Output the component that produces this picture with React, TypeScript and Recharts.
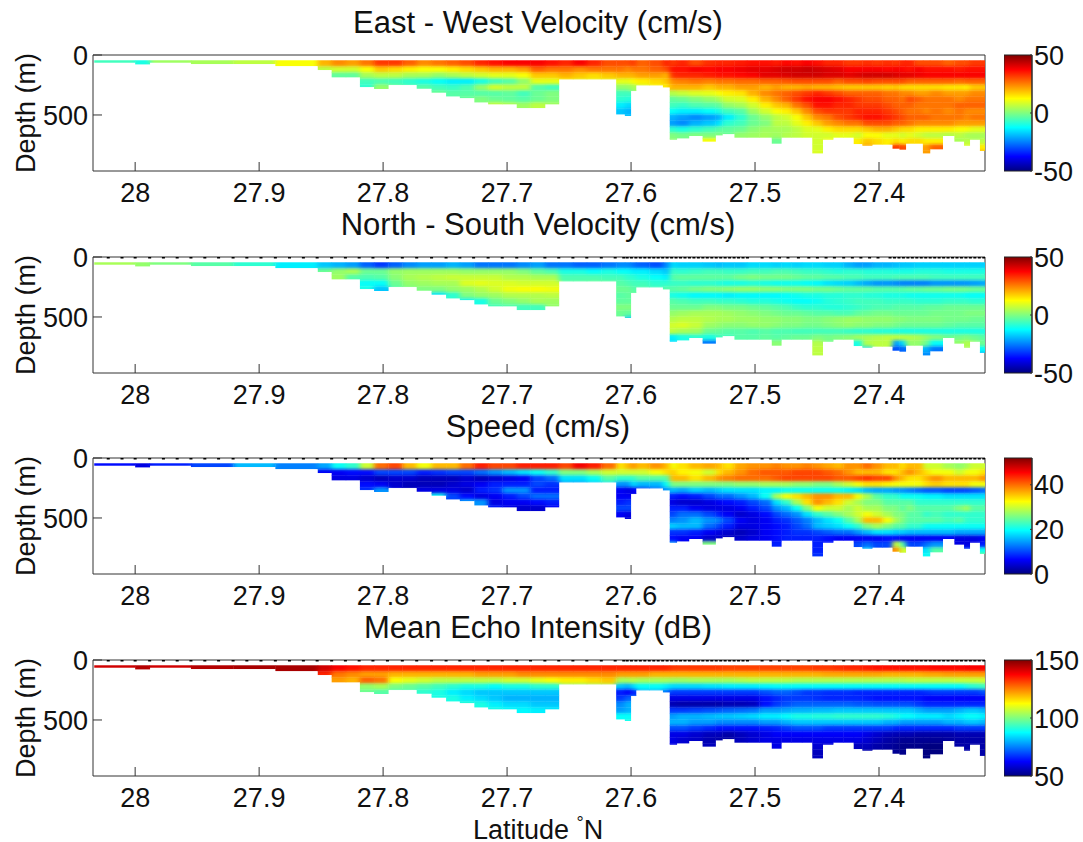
import { Bar, BarChart, Scatter, ScatterChart, XAxis, YAxis } from "recharts"

const latTicks = [28, 27.9, 27.8, 27.7, 27.6, 27.5, 27.4]
const depthTicks = [0, 500]

// column edges (deg N), one more than the columns
const latEdges = [
  28.033, 28.0, 27.9883, 27.955, 27.9208, 27.8869, 27.8527, 27.8415, 27.8301, 27.8187, 27.8073, 27.7959, 27.7845,
  27.7729, 27.7609, 27.7492, 27.7381, 27.7264, 27.7153, 27.7039, 27.6922, 27.6811, 27.6695, 27.6583, 27.6469, 27.6357,
  27.624, 27.612, 27.605, 27.6003, 27.5961, 27.5852, 27.5743, 27.5688, 27.5632, 27.5534, 27.5423, 27.5319, 27.5264,
  27.5166, 27.5066, 27.4965, 27.4865, 27.4789, 27.4706, 27.4622, 27.4538, 27.4455, 27.4371, 27.4287, 27.4204, 27.4134,
  27.4056, 27.3972, 27.3891, 27.3835, 27.3785, 27.3716, 27.3646, 27.359, 27.3487, 27.3392, 27.3314, 27.3269, 27.3186,
  27.3144,
]

// deepest good bin per column (m)
const bottomDepths = [
  61, 75, 61, 72, 72, 89, 122, 183, 183, 264, 280, 247, 247, 278, 311, 342, 356, 392, 408, 408, 439, 439, 408, 200, 200,
  200, 200, 492, 505, 297, 250, 250, 267, 703, 692, 672, 719, 667, 656, 686, 686, 686, 736, 686, 686, 686, 817, 703,
  686, 686, 739, 753, 744, 744, 778, 786, 736, 736, 817, 783, 672, 719, 753, 703, 797,
]

const stationLats = [
  28.0217, 28.0106, 28, 27.9883, 27.9772, 27.9661, 27.955, 27.9438, 27.9327, 27.921, 27.9099, 27.8985, 27.8869, 27.8755,
  27.8643, 27.8532, 27.8415, 27.8304, 27.8193, 27.8082, 27.7965, 27.7845, 27.7729, 27.7609, 27.7492, 27.7381, 27.727,
  27.7153, 27.7039, 27.6922, 27.6811, 27.6695, 27.6583, 27.6469, 27.6357, 27.624, 27.6128, 27.6059, 27.6031, 27.5997,
  27.5961, 27.5925, 27.5889, 27.5853, 27.5817, 27.5781, 27.5745, 27.5709, 27.5673, 27.5637, 27.5601, 27.5565, 27.5529,
  27.5493, 27.5457, 27.5421, 27.5385, 27.5349, 27.5313, 27.5277, 27.5241, 27.5205, 27.5169, 27.5133, 27.5097, 27.5061,
  27.4943, 27.4873, 27.4803, 27.4734, 27.465, 27.4566, 27.4497, 27.4427, 27.436, 27.4285, 27.4215, 27.4146, 27.4076,
  27.4008, 27.3911, 27.3875, 27.3839, 27.3803, 27.3767, 27.3731, 27.3695, 27.3659, 27.3623, 27.3587, 27.3551, 27.3515,
  27.3479, 27.3443, 27.3407, 27.3371, 27.3335, 27.3299, 27.3263, 27.3227, 27.3191, 27.3155,
]

// each column reads from the top bin down, 50 m bins starting at 44 m
const eastWest = [
  [-6], [-10], [3], [4], [6], [12], [20, 6], [24, 8, -3], [22, 8, -3], [26, 12, 4, -6, -8], [32, 18, 6, -5, 2],
  [32, 16, 6, -6, 0], [28, 14, 4, -8, -3], [24, 12, 4, -10, -4], [26, 12, 2, -12, -6, -2], [28, 14, 4, -14, -7, -4],
  [30, 16, 6, -14, -5, -4, -2], [34, 18, 8, -10, 2, -4, 0], [36, 20, 10, -6, 8, -4, -2, 8], [38, 20, 10, -4, 6, -3, -3, 6],
  [38, 22, 12, 2, 6, -6, -4, 3], [38, 28, 18, 10, -4, -2, -2, 6], [36, 26, 18, 10, -6, 0, 0, 4],
  [34, 26, 20, 12], [38, 24, 18, 10], [34, 26, 16, 10], [30, 26, 18, 10],
  [30, 26, 20, 10, 2, -6, -8, -14, -18], [30, 24, 20, 10, 2, -6, -9, -16, -20, -18], [32, 26, 20, 12, 4, 2],
  [28, 26, 22, 14, 8], [30, 28, 22, 16, 12], [34, 30, 20, 18, 14],
  [32, 36, 33, 24, 20, 5, -3, -6, -12, -20, -22, -8, 0, 2],
  [34, 36, 34, 25, 20, 7, -2, -7, -14, -22, -24, -10, -1],
  [30, 38, 34, 26, 20, 9, 0, -5, -14, -24, -20, -8, 0],
  [33, 37, 35, 25, 18, 10, 2, -4, -12, -22, -18, -6, 0, 12],
  [34, 38, 36, 26, 20, 12, 4, -3, -10, -20, -15, -4, 0],
  [34, 38, 36, 26, 20, 14, 8, 2, -6, -14, -8, -3, -2],
  [35, 39, 37, 27, 22, 15, 9, 4, -4, -8, -6, -2, 2],
  [36, 40, 38, 27, 22, 20, 14, 8, 3, -2, -2, 1, 3],
  [36, 40, 40, 28, 20, 24, 20, 14, 8, 2, 0, 3, 4],
  [35, 41, 40, 28, 22, 26, 24, 18, 12, 6, 6, 4, 3, -2],
  [37, 42, 41, 29, 20, 28, 28, 20, 14, 8, 6, 4, 5],
  [36, 42, 42, 30, 20, 30, 32, 26, 18, 12, 10, 6, 6],
  [38, 43, 42, 30, 21, 32, 36, 30, 24, 18, 14, 9, 8],
  [36, 42, 42, 30, 20, 34, 38, 36, 30, 24, 18, 10, 8, 8, 8, 9],
  [34, 41, 41, 30, 20, 32, 38, 36, 32, 26, 22, 14, 8, 12],
  [34, 40, 41, 28, 19, 30, 36, 34, 32, 30, 24, 16, 10],
  [32, 38, 40, 30, 18, 28, 34, 34, 32, 32, 26, 16, 10],
  [32, 38, 41, 30, 18, 28, 32, 32, 34, 34, 26, 16, 8, 14],
  [33, 38, 42, 31, 18, 28, 30, 32, 34, 36, 30, 18, 12, 18, 22],
  [32, 38, 42, 30, 18, 28, 30, 32, 34, 36, 30, 20, 12, 16],
  [33, 37, 42, 30, 17, 26, 28, 30, 32, 34, 30, 20, 10, 14],
  [32, 38, 41, 30, 18, 26, 28, 28, 30, 32, 28, 18, 10, 16, 32],
  [34, 37, 40, 30, 16, 24, 26, 28, 28, 30, 28, 16, 8, 14, 30],
  [34, 36, 40, 28, 16, 24, 30, 28, 26, 28, 26, 16, 10, 16],
  [30, 38, 39, 28, 16, 22, 28, 26, 26, 28, 24, 14, 8, 16],
  [30, 36, 38, 28, 16, 22, 26, 26, 24, 28, 24, 14, 6, 14, 22, 22],
  [30, 36, 38, 28, 16, 24, 26, 26, 26, 26, 24, 14, 6, 14, 28],
  [28, 36, 38, 28, 15, 22, 26, 26, 24, 26, 24, 14, 5],
  [30, 35, 38, 27, 15, 22, 24, 28, 26, 26, 22, 12, 6, 4],
  [30, 36, 38, 28, 14, 22, 26, 28, 24, 24, 22, 12, 4, 6, 10],
  [32, 36, 38, 28, 18, 24, 26, 28, 24, 26, 22, 10, 4, 4],
  [32, 36, 38, 28, 18, 24, 26, 28, 24, 26, 22, 10, 4, 6, 14, 25],
]

const northSouth = [
  [4], [2], [0], [-4], [-8], [-14], [-18, -2], [-20, 2, 3], [-22, 4, -4], [-28, -2, -5, -12, -10],
  [-32, -2, -4, -12, -18], [-28, 2, 1, -2, -6], [-24, 3, 4, 2, -2], [-22, 3, 5, 3, 0], [-22, 3, 6, 4, 0, -15],
  [-20, 3, 7, 4, 2, -8], [-22, 2, 7, 9, 3, 0, -14], [-26, 2, 7, 10, 5, 2, -10], [-26, 2, 7, 9, 8, 3, -2, -6],
  [-26, 2, 5, 9, 11, 5, 0, -5], [-24, 0, 5, 8, 12, 5, 2, -6], [-22, -3, 4, 8, 12, 5, 4, -6], [-26, -5, 4, 8, 11, 6, 3, 2],
  [-26, -10, -5, -3], [-28, -10, -5, -3], [-28, -12, -5, -2], [-26, -10, -6, -2],
  [-24, -12, -6, -4, -2, -4, -3, 0, -2], [-24, -12, -8, -5, -2, -3, -3, 0, -3, -18], [-26, -14, -8, -6, -4, -2],
  [-28, -14, -10, -6, -4], [-30, -16, -12, -8, -5], [-24, -18, -14, -8, -4],
  [-16, -7, -4, -7, -4, -10, -4, -2, 2, 5, 8, 6, -14, -16],
  [-17, -8, -3, -7, -3, -11, -5, -2, 3, 6, 9, 4, -10],
  [-17, -7, -3, -8, -1, -13, -6, -2, 4, 6, 7, 3, -8],
  [-18, -6, -3, -8, 0, -13, -6, 0, 4, 5, 3, -2, -10, -26],
  [-19, -6, -3, -9, 0, -13, -7, 0, 4, 4, 2, -3, -6],
  [-18, -7, -3, -10, 1, -14, -7, -1, 3, 4, 1, -4, -6],
  [-18, -7, -1, -10, 2, -13, -8, -1, 2, 3, 1, -4, -4],
  [-16, -6, 0, -9, 2, -13, -9, -2, 1, 3, 2, -5, -4],
  [-16, -6, -1, -10, 1, -13, -9, -3, 0, 2, 2, -4, -3],
  [-17, -5, -1, -11, 1, -13, -10, -4, -1, 2, 1, -5, -4, 1],
  [-16, -5, -1, -11, 0, -12, -11, -5, -2, 1, 0, -5, -3],
  [-17, -6, -2, -11, 0, -11, -12, -7, -2, 1, 0, -6, -2],
  [-16, -7, -3, -12, 0, -10, -12, -8, -3, 0, -1, -6, -2],
  [-16, -7, -3, -13, -1, -10, -11, -8, -4, 0, -1, -6, 0, 5, 6, 6],
  [-17, -8, -4, -15, -1, -9, -9, -9, -4, 1, 0, -6, -1, -1],
  [-17, -9, -4, -16, -2, -9, -8, -9, -5, 2, 1, -6, 0],
  [-20, -8, -5, -17, -3, -8, -7, -8, -5, 3, 2, -7, 1],
  [-22, -8, -5, -19, -3, -8, -6, -7, -3, 3, 1, -8, 3, -10],
  [-22, -9, -6, -21, -3, -9, -6, -6, -2, 2, 1, -8, 4, 5, -16],
  [-20, -9, -6, -23, -4, -9, -6, -5, -1, 2, 0, -9, 5, 6],
  [-20, -9, -6, -23, -4, -10, -7, -5, -1, 2, 0, -9, 6, 6],
  [-19, -10, -5, -24, -4, -10, -7, -4, -2, 1, -1, -10, 6, -22, -30],
  [-18, -10, -5, -25, -4, -10, -7, -4, -2, 1, -2, -10, 6, -16, -27],
  [-18, -10, -5, -25, -3, -11, -7, -4, -2, 0, -2, -10, 5, 2],
  [-17, -9, -5, -25, -3, -11, -8, -4, -2, 0, -2, -10, 4, 2],
  [-17, -9, -5, -25, -2, -11, -8, -3, -2, 0, -2, -10, 2, -2, -20, -24],
  [-17, -9, -6, -23, -2, -11, -8, -3, -1, 0, -2, -10, 0, -12, -26],
  [-17, -10, -6, -23, -1, -11, -7, -2, -1, -1, -3, -10, -2],
  [-17, -10, -6, -23, -1, -11, -7, -2, -1, -1, -4, -10, -1, 2],
  [-17, -10, -6, -23, -1, -12, -7, -2, 0, -1, -4, -10, 0, 5, 4],
  [-17, -10, -6, -22, -2, -12, -8, -2, 0, -2, -4, -10, -2, 2],
  [-17, -10, -6, -21, -2, -12, -8, -2, 0, -2, -4, -10, -4, -2, -12, -26],
]

const speed = [
  [7], [5], [8], [10], [16], [13], [15, 6], [20, 6, 5], [22, 7, 5], [30, 7, 4, 7, 9], [40, 10, 3, 6, 14],
  [42, 10, 4, 4, 5], [36, 10, 4, 3, 3], [32, 8, 3, 3, 5], [36, 9, 3, 3, 5, 20], [36, 10, 3, 4, 5, 10],
  [40, 10, 4, 5, 4, 7, 16], [44, 12, 3, 6, 8, 5, 14], [42, 14, 4, 8, 9, 6, 5, 8], [42, 16, 5, 8, 14, 8, 6, 5],
  [44, 18, 6, 8, 14, 10, 6, 4], [44, 20, 10, 10, 8, 12, 7, 4], [44, 22, 12, 9, 8, 12, 8, 6],
  [42, 26, 18, 14], [46, 26, 18, 14], [44, 28, 20, 16], [40, 30, 24, 18],
  [34, 30, 22, 14, 6, 6, 8, 10, 6], [36, 30, 22, 14, 5, 6, 9, 10, 5, 4], [38, 30, 22, 18, 6, 4],
  [36, 30, 24, 16, 6], [38, 32, 24, 16, 10], [36, 34, 24, 20, 14],
  [32, 35, 36, 26, 16, 8, 5, 8, 10, 13, 17, 9, 7, 16],
  [34, 33, 36, 26, 15, 7, 4, 8, 12, 14, 16, 9, 6],
  [36, 32, 34, 26, 17, 8, 4, 6, 12, 16, 16, 8, 6],
  [37, 30, 36, 26, 16, 10, 5, 5, 10, 14, 12, 6, 4, 26],
  [36, 34, 38, 26, 17, 12, 6, 5, 8, 13, 10, 5, 4],
  [34, 36, 39, 26, 18, 12, 7, 5, 6, 10, 8, 4, 3],
  [37, 38, 40, 27, 18, 14, 8, 6, 4, 6, 5, 3, 4],
  [38, 40, 40, 27, 18, 16, 10, 8, 5, 5, 5, 4, 5],
  [38, 41, 40, 28, 19, 20, 12, 10, 7, 6, 6, 6, 6],
  [39, 41, 41, 28, 19, 28, 18, 14, 10, 8, 7, 7, 7, 8],
  [38, 41, 42, 28, 20, 32, 22, 16, 12, 9, 8, 8, 8],
  [38, 42, 42, 27, 20, 34, 28, 20, 14, 11, 10, 9, 8],
  [39, 42, 42, 27, 20, 36, 34, 26, 18, 13, 12, 9, 8],
  [38, 42, 42, 26, 20, 38, 38, 32, 22, 16, 16, 10, 8, 8, 8, 9],
  [37, 41, 42, 26, 20, 38, 36, 30, 24, 18, 17, 11, 7, 8],
  [36, 40, 41, 28, 20, 36, 34, 30, 26, 20, 18, 12, 6],
  [38, 38, 41, 30, 19, 36, 30, 28, 28, 24, 20, 12, 6],
  [38, 36, 42, 32, 18, 32, 28, 30, 30, 28, 22, 14, 6, 10],
  [40, 36, 43, 34, 16, 28, 26, 28, 32, 36, 26, 16, 6, 12, 18],
  [38, 36, 42, 34, 15, 24, 26, 28, 30, 36, 28, 18, 6, 10],
  [36, 34, 42, 33, 15, 22, 24, 26, 28, 32, 26, 18, 7, 10],
  [36, 34, 38, 32, 14, 22, 24, 26, 26, 28, 24, 17, 7, 30, 38],
  [34, 36, 36, 32, 14, 20, 24, 24, 26, 26, 24, 17, 6, 24, 30],
  [36, 38, 34, 32, 13, 20, 24, 26, 24, 24, 22, 16, 6, 10],
  [36, 36, 34, 32, 12, 20, 22, 24, 24, 24, 22, 16, 6, 10],
  [30, 34, 36, 34, 11, 19, 22, 24, 22, 24, 20, 16, 6, 12, 18, 20],
  [30, 32, 38, 35, 11, 19, 22, 24, 23, 24, 20, 16, 6, 14, 24],
  [28, 32, 36, 34, 10, 18, 22, 24, 22, 23, 20, 16, 6],
  [27, 30, 36, 34, 10, 18, 22, 26, 22, 24, 20, 15, 5, 5],
  [28, 32, 36, 34, 10, 18, 22, 28, 22, 22, 20, 15, 5, 5, 10],
  [30, 32, 36, 32, 11, 18, 22, 24, 22, 22, 20, 15, 5, 5],
  [30, 34, 38, 32, 12, 18, 22, 24, 22, 22, 20, 15, 6, 8, 20, 30],
]

const echo = [
  [142], [145], [142], [145], [146], [146], [142, 134], [138, 126, 122], [136, 124, 120], [134, 122, 128, 102, 98],
  [134, 122, 126, 104, 96], [134, 120, 112, 100, 92], [134, 120, 110, 98, 94], [134, 120, 108, 96, 92],
  [134, 120, 106, 94, 90, 90], [134, 120, 106, 92, 86, 90], [134, 120, 106, 90, 84, 86, 92], [134, 122, 106, 90, 82, 84, 90],
  [134, 122, 106, 88, 82, 82, 86, 90], [134, 122, 108, 90, 82, 80, 84, 88], [134, 124, 108, 90, 82, 80, 84, 87],
  [134, 124, 110, 92, 82, 80, 82, 86], [134, 124, 112, 92, 82, 80, 82, 86],
  [134, 124, 114, 100], [134, 124, 114, 100], [134, 124, 116, 102], [134, 124, 118, 104],
  [134, 122, 104, 82, 65, 68, 76, 78, 88], [134, 122, 104, 80, 62, 72, 80, 80, 88, 90], [134, 122, 106, 84, 66, 78],
  [134, 122, 104, 88, 78], [134, 120, 104, 88, 78], [134, 120, 104, 86, 74],
  [132, 120, 103, 84, 68, 60, 55, 68, 78, 80, 70, 60, 60, 60],
  [132, 120, 103, 84, 68, 60, 54, 68, 80, 80, 70, 60, 58],
  [132, 120, 104, 84, 68, 60, 54, 69, 80, 78, 68, 58, 57],
  [132, 120, 104, 85, 68, 60, 54, 70, 81, 78, 66, 56, 55, 56],
  [132, 120, 104, 85, 68, 60, 54, 71, 82, 76, 64, 56, 54],
  [131, 120, 104, 86, 68, 60, 55, 72, 82, 76, 64, 54, 53],
  [131, 120, 105, 86, 68, 60, 55, 73, 83, 76, 64, 56, 56],
  [131, 120, 106, 86, 68, 60, 56, 74, 84, 76, 64, 58, 58],
  [131, 120, 106, 87, 70, 64, 64, 78, 86, 78, 65, 60, 60],
  [131, 120, 106, 88, 72, 66, 68, 78, 86, 78, 66, 62, 60, 60],
  [131, 120, 106, 88, 72, 68, 70, 79, 88, 80, 68, 62, 60],
  [131, 120, 105, 88, 70, 68, 72, 80, 90, 82, 70, 62, 60],
  [131, 120, 105, 88, 68, 68, 72, 80, 90, 82, 70, 62, 60],
  [132, 120, 105, 88, 68, 67, 72, 81, 91, 82, 70, 62, 60, 58, 56, 56],
  [132, 121, 105, 88, 67, 66, 72, 81, 91, 82, 68, 62, 60, 58],
  [133, 121, 105, 88, 67, 66, 72, 82, 92, 82, 68, 62, 60],
  [134, 121, 105, 88, 67, 66, 72, 82, 92, 82, 68, 62, 60],
  [134, 121, 105, 88, 66, 66, 71, 82, 92, 82, 68, 62, 60, 56],
  [135, 121, 105, 88, 66, 65, 71, 82, 92, 82, 68, 60, 58, 56, 54],
  [136, 121, 105, 88, 66, 64, 70, 82, 92, 82, 68, 58, 56, 54],
  [136, 120, 105, 88, 66, 64, 70, 82, 91, 80, 68, 56, 54, 53],
  [136, 120, 105, 88, 66, 64, 70, 82, 90, 80, 66, 55, 53, 52, 52],
  [136, 120, 105, 88, 66, 64, 70, 82, 88, 78, 66, 55, 52, 51, 51],
  [136, 120, 106, 88, 66, 64, 70, 82, 88, 78, 66, 55, 52, 51],
  [136, 120, 106, 88, 66, 64, 68, 80, 86, 78, 66, 54, 52, 51],
  [136, 121, 106, 88, 67, 62, 66, 78, 86, 78, 66, 54, 52, 50, 50, 50],
  [137, 121, 106, 88, 68, 62, 66, 78, 86, 78, 66, 54, 52, 50, 50],
  [137, 122, 106, 88, 68, 62, 66, 78, 84, 80, 66, 54, 53],
  [137, 122, 107, 88, 68, 62, 66, 80, 86, 80, 68, 55, 54, 54],
  [138, 122, 107, 90, 68, 62, 66, 82, 88, 82, 68, 55, 54, 54, 54],
  [138, 122, 107, 92, 68, 62, 66, 82, 88, 82, 68, 55, 54, 54],
  [138, 122, 108, 94, 70, 62, 66, 80, 86, 80, 68, 55, 54, 54, 54, 54],
]

const FONT = "'Liberation Sans', Arial, sans-serif"
const INK = "#333"
const PLOT_W = 892
const PLOT_H = 116
const LAT_DOMAIN: [number, number] = [27.3145, 28.034]
const MAX_DEPTH = 967
const FIRST_BIN = 44
const BIN = 50

function jet(t: number) {
  const c = (v: number) => Math.round(255 * Math.min(1, Math.max(0, v)))
  return `rgb(${c(1.5 - Math.abs(4 * t - 3))},${c(1.5 - Math.abs(4 * t - 2))},${c(1.5 - Math.abs(4 * t - 1))})`
}

function buildCells(columns: number[][]) {
  return columns.flatMap((col, i) =>
    col.flatMap((value, r) => {
      const top = FIRST_BIN + BIN * r
      const bottom = Math.min(top + BIN, bottomDepths[i])
      if (top >= bottom) return []
      return [{
        lat: (latEdges[i] + latEdges[i + 1]) / 2,
        depth: (top + bottom) / 2,
        dLat: latEdges[i] - latEdges[i + 1],
        dDepth: bottom - top,
        value,
      }]
    }),
  )
}

const stations = stationLats.map((lat) => ({ lat, depth: 0 }))

function Panel({ id, title, columns, min, max, ticks, top, titleY, showStations }: any) {
  const cells = buildCells(columns)
  const pxLat = PLOT_W / (LAT_DOMAIN[1] - LAT_DOMAIN[0])
  const pxDepth = PLOT_H / MAX_DEPTH

  const cellShape = (p: any) => {
    const w = p.payload.dLat * pxLat
    const h = p.payload.dDepth * pxDepth
    return (
      <rect
        x={p.cx - w / 2}
        y={p.cy - h / 2}
        width={w + 0.4}
        height={h + 0.4}
        fill={jet((p.payload.value - min) / (max - min))}
      />
    )
  }
  const dotShape = (p: any) => <rect x={p.cx - 1.5} y={p.cy - 1.5} width={3} height={3} fill="#000" />
  const tickStyle = { fontSize: 27, fontFamily: FONT, fill: "#111" }

  return (
    <>
      <div
        style={{
          position: "absolute", left: 0, width: 1076, top: titleY, textAlign: "center",
          fontSize: 31, lineHeight: "30px", fontFamily: FONT, color: "#111",
        }}
      >
        {title}
      </div>
      <div style={{ position: "absolute", left: 0, top: top - 20 }}>
        <ScatterChart width={1000} height={176} margin={{ top: 19, right: 14, bottom: 0, left: 0 }}>
          <XAxis
            xAxisId="lat" dataKey="lat" type="number" domain={LAT_DOMAIN} reversed ticks={latTicks} interval={0}
            height={40} tickSize={-9} tickMargin={21} tick={tickStyle} stroke={INK}
            allowDataOverflow
          />
          <XAxis
            xAxisId="latTop" orientation="top" type="number" domain={LAT_DOMAIN} reversed ticks={latTicks} interval={0}
            height={1} tickSize={-9} tick={false} stroke={INK}
          />
          <YAxis
            yAxisId="depth" dataKey="depth" type="number" domain={[0, MAX_DEPTH]} reversed ticks={depthTicks} interval={0}
            width={93} tickSize={-9} tickMargin={14} tick={tickStyle} stroke={INK}
            label={{ value: "Depth (m)", angle: -90, position: "insideLeft", dx: 20, dy: 0, style: { ...tickStyle, textAnchor: "middle" } }}
            allowDataOverflow
          />
          <YAxis
            yAxisId="depthRight" orientation="right" type="number" domain={[0, MAX_DEPTH]} reversed ticks={depthTicks} interval={0}
            width={1} tickSize={-9} tick={false} stroke={INK}
          />
          <Scatter xAxisId="lat" yAxisId="depth" data={cells} shape={cellShape} className="heat" isAnimationActive={false} />
          {showStations && (
            <Scatter xAxisId="lat" yAxisId="depth" data={stations} shape={dotShape} isAnimationActive={false} />
          )}
        </ScatterChart>
      </div>
      <div style={{ position: "absolute", left: 1004, top: top - 20 }}>
        <BarChart
          width={85} height={156} data={[{ name: id, range: [min, max] }]}
          margin={{ top: 20, right: 0, bottom: 20, left: 0 }} barCategoryGap={0}
        >
          <defs>
            <linearGradient id={`jet-${id}`} x1="0" y1="1" x2="0" y2="0">
              {[0, 0.125, 0.25, 0.375, 0.5, 0.625, 0.75, 0.875, 1].map((t) => (
                <stop key={t} offset={t} stopColor={jet(t)} />
              ))}
            </linearGradient>
          </defs>
          <XAxis dataKey="name" hide />
          <YAxis
            orientation="right" type="number" domain={[min, max]} ticks={ticks} interval={0} width={57}
            tickSize={-2} tickMargin={4} tick={tickStyle} stroke={INK}
          />
          <Bar dataKey="range" fill={`url(#jet-${id})`} stroke="#222" isAnimationActive={false} />
        </BarChart>
      </div>
    </>
  )
}

export default function App() {
  return (
    <div style={{ position: "absolute", left: 0, top: 0, width: 1083, height: 842, background: "#fff", overflow: "hidden" }}>
      <style>{`.heat { filter: url(#smooth); }`}</style>
      <svg width={0} height={0} style={{ position: "absolute" }}>
        <filter id="smooth" x="-2%" y="-2%" width="104%" height="104%" colorInterpolationFilters="sRGB">
          <feGaussianBlur in="SourceGraphic" stdDeviation="2.5 1.5" result="b" />
          <feComponentTransfer in="b" result="solid">
            <feFuncA type="linear" slope="30" />
          </feComponentTransfer>
          <feComposite in="solid" in2="SourceAlpha" operator="in" />
        </filter>
      </svg>
      <Panel id="ew" title="East - West Velocity (cm/s)" columns={eastWest} min={-50} max={50} ticks={[-50, 0, 50]} top={55} titleY={8} />
      <Panel id="ns" title="North - South Velocity (cm/s)" columns={northSouth} min={-50} max={50} ticks={[-50, 0, 50]} top={257} titleY={210} showStations />
      <Panel id="sp" title="Speed (cm/s)" columns={speed} min={0} max={52} ticks={[0, 20, 40]} top={458} titleY={412} showStations />
      <Panel id="ec" title="Mean Echo Intensity (dB)" columns={echo} min={50} max={150} ticks={[50, 100, 150]} top={660} titleY={613} showStations />
      <div
        style={{
          position: "absolute", left: 473, top: 815, fontSize: 27, lineHeight: "30px", fontFamily: FONT, color: "#111",
        }}
      >
        Latitude <sup style={{ fontSize: 18, lineHeight: 0 }}>°</sup>N
      </div>
    </div>
  )
}
